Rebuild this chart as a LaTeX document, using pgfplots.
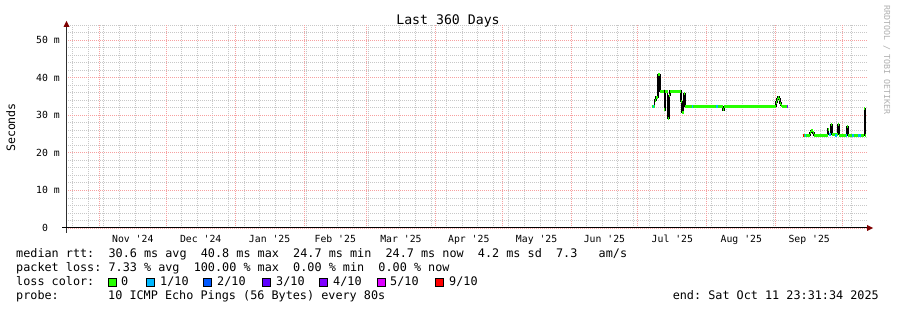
\documentclass[border=0pt]{standalone}
\usepackage{fontspec}
\setmainfont{DejaVu Sans Mono}
\usepackage{pgfplots}
\usepackage{pgfplotstable}
\pgfplotsset{compat=1.18}
\definecolor{loss0}{HTML}{26FF00}
\definecolor{loss1}{HTML}{00B8FF}
\definecolor{loss2}{HTML}{0059FF}
\definecolor{loss3}{HTML}{5E00FF}
\definecolor{loss4}{HTML}{7E00FF}
\definecolor{loss5}{HTML}{DD00FF}
\definecolor{loss9}{HTML}{FF0000}
\definecolor{mjgridcol}{HTML}{F7A0A0}
\definecolor{mngridcol}{HTML}{C8C8C8}
\definecolor{arrowred}{HTML}{7F0000}
\definecolor{axiscol}{HTML}{303030}
\definecolor{credit}{HTML}{B0B0B0}

\pgfplotstableread{
x y
263.2 32.3
264.5 34.0
265.2 34.8
266.1 40.7
267.0 36.4
268.9 31.4
269.4 36.4
270.4 29.2
270.9 35.2
271.5 36.4
276.4 33.6
276.9 30.8
277.6 35.8
278.2 32.3
295.2 31.4
295.7 32.3
319.1 33.5
319.5 34.3
319.9 34.8
320.4 34.3
320.8 33.2
321.3 32.6
321.7 32.3
324.6 32.3
}\segone

\pgfplotstableread{
x y
331.05 24.7
334.45 25.4
334.85 25.9
335.55 25.3
336.25 24.7
342.25 26.3
342.75 24.9
343.85 27.4
344.35 25.0
347.05 27.4
347.55 24.7
351.05 26.9
351.55 24.7
358.85 31.8
359.25 24.7
359.55 24.7
}\segtwo

\pgfplotsset{
  every axis grid/.style={line width=0.8bp, dash pattern=on 1bp off 1bp},
  every major grid/.style={draw=mjgridcol},
  every minor grid/.style={draw=mngridcol},
}

\begin{document}
\frenchspacing
\begin{tikzpicture}
\path[use as bounding box, fill=white] (0,0) rectangle (897bp,310bp);
\begin{axis}[
  at={(66bp,82bp)}, anchor=south west, scale only axis,
  width=801bp, height=203bp,
  xmin=0, xmax=360, ymin=0, ymax=54,
  axis line style={draw=none},
  major tick length=0pt, minor tick length=0pt,
  xtick={30.02,60.52,91.52,121.02,150.52,181.02,211.52,242.02,272.52,303.52,334.02},
  xticklabels={{Nov \textquotesingle24},{Dec \textquotesingle24},{Jan \textquotesingle25},{Feb \textquotesingle25},{Mar \textquotesingle25},{Apr \textquotesingle25},{May \textquotesingle25},{Jun \textquotesingle25},{Jul \textquotesingle25},{Aug \textquotesingle25},{Sep \textquotesingle25}},
  minor xtick={3.02,10.02,17.02,24.02,31.02,38.02,52.02,59.02,66.02,73.02,80.02,87.02,94.02,101.02,108.02,115.02,122.02,129.02,136.02,143.02,150.02,157.02,164.02,171.02,178.02,185.02,192.02,199.02,206.02,213.02,220.02,234.02,241.02,248.02,255.02,262.02,269.02,276.02,283.02,290.02,297.02,304.02,311.02,318.02,325.02,332.02,339.02,346.02,353.02},
  extra x ticks={15.02,45.02,76.02,107.02,135.02,166.02,196.02,227.02,257.02,288.02,319.02,349.02},
  extra x tick labels={,,,,,,,,,,,},
  extra x tick style={xmajorgrids=true, major grid style={draw=mjgridcol, line width=0.8bp, dash pattern=on 1bp off 1bp}},
  xmajorgrids=false, xminorgrids=true,
  ymajorgrids=true, yminorgrids=true,
  ytick={0,10,20,30,40,50},
  yticklabels={{0\hphantom{00}},{10 m},{20 m},{30 m},{40 m},{50 m}},
  minor ytick={2,4,6,8,12,14,16,18,22,24,26,28,32,34,36,38,42,44,46,48,52,54},
  ticklabel style={font=\fontsize{9.8bp}{11bp}\selectfont},
  xticklabel style={anchor=base, yshift=-14bp, inner sep=0pt},
  yticklabel style={anchor=east, inner sep=0pt, xshift=-6bp},
]
\addplot[black, line width=1.5bp, const plot mark left] table {\segone};
\addplot[loss0, line width=3bp, jump mark left] table {\segone};
\addplot[black, line width=1.5bp, const plot mark left] table {\segtwo};
\addplot[loss0, line width=3bp, jump mark left] table {\segtwo};
% loss-coloured pieces
\addplot[loss1, line width=3bp] coordinates {(263.8,32.3) (264.3,32.3)};
\addplot[loss1, line width=3bp] coordinates {(281.4,32.3) (281.9,32.3)};
\addplot[loss1, line width=3bp] coordinates {(292.2,32.3) (292.9,32.3)};
\addplot[loss4, line width=3bp] coordinates {(324.1,32.3) (324.6,32.3)};
\addplot[loss9, line width=3bp] coordinates {(331.05,24.7) (331.55,24.7)};
\addplot[loss1, line width=3bp] coordinates {(331.95,24.7) (332.55,24.7)};
\addplot[loss1, line width=3bp] coordinates {(342.95,24.9) (343.75,24.9)};
\addplot[loss1, line width=3bp] coordinates {(345.55,24.7) (346.55,24.7)};
\addplot[loss1, line width=3bp] coordinates {(350.55,24.7) (351.05,24.7)};
\addplot[loss1, line width=3bp] coordinates {(353.15,24.7) (354.15,24.7)};
\addplot[loss1, line width=3bp] coordinates {(356.15,24.7) (357.15,24.7)};
\end{axis}
% axes and arrows
\draw[axiscol, line width=1bp] (66.5bp,77bp) -- (66.5bp,284bp);
\draw[black, line width=1bp] (62bp,82bp) -- (868bp,82bp);
\fill[arrowred] (63.5bp,283bp) -- (69.5bp,283bp) -- (66.5bp,289bp) -- cycle;
\fill[arrowred] (867bp,79bp) -- (867bp,85bp) -- (873bp,82bp) -- cycle;
% title and labels
\node[anchor=base, inner sep=0pt, font=\fontsize{13.2bp}{15bp}\selectfont] at (448bp,285.7bp) {Last 360 Days};
\node[anchor=base, rotate=90, inner sep=0pt, font=\fontsize{11.6bp}{13bp}\selectfont] at (15bp,182.5bp) {Seconds};
\node[anchor=base, rotate=-90, inner sep=0pt, text=credit, font=\fontsize{8.3bp}{9bp}\selectfont] at (884bp,250bp) {RRDTOOL / TOBI OETIKER};
% legend
\begin{scope}[every node/.style={anchor=base west, inner sep=0pt, font=\fontsize{11.8bp}{13bp}\selectfont}]
\node at (16bp,52.5bp) {median rtt:~~30.6 ms avg~~40.8 ms max~~24.7 ms min~~24.7 ms now~~4.2 ms sd~~7.3~~~am/s};
\node at (16bp,38.5bp) {packet loss:~7.33 \% avg~~100.00 \% max~~0.00 \% min~~0.00 \% now};
\node at (16bp,24.5bp) {loss color:};
\node at (121bp,24.5bp) {0};
\node at (160bp,24.5bp) {1/10};
\node at (217bp,24.5bp) {2/10};
\node at (276bp,24.5bp) {3/10};
\node at (333bp,24.5bp) {4/10};
\node at (390bp,24.5bp) {5/10};
\node at (449bp,24.5bp) {9/10};
\node at (16bp,10.5bp) {probe:};
\node at (108bp,10.5bp) {10 ICMP Echo Pings (56 Bytes) every 80s};
\node[anchor=base east] at (879bp,10.5bp) {end: Sat Oct 11 23:31:34 2025};
\end{scope}
\foreach \xx/\cc in {108/loss0,146/loss1,203/loss2,262/loss3,319/loss4,377/loss5,435/loss9}{
  \draw[black, line width=0.8bp, fill=\cc] (\xx bp,23.5bp) rectangle ++(8bp,8bp);
}
\end{tikzpicture}
\end{document}
